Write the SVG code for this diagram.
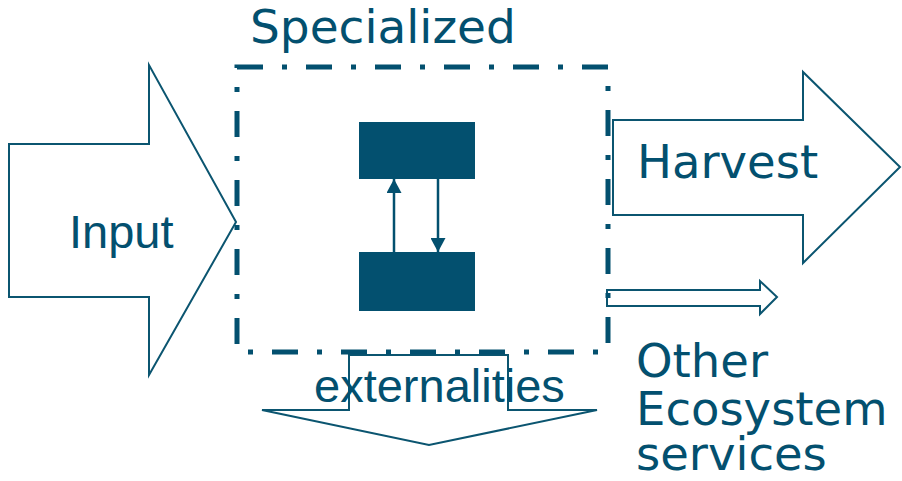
<svg xmlns="http://www.w3.org/2000/svg" width="902" height="481" viewBox="0 0 902 481">
<style>
.arr{fill:none;stroke:#0b5570;stroke-width:2;stroke-linejoin:miter}
.box{fill:none;stroke:#03506f;stroke-width:5;stroke-dasharray:26 19 5 19}
.blk{fill:#03506f}
.ln{stroke:#03506f;stroke-width:2.5;fill:none}
.tv{font-family:"DejaVu Sans",Verdana,sans-serif;font-size:46.5px;fill:#03506f}
.ta{font-family:"Liberation Sans",Arial,sans-serif;font-size:47px;fill:#03506f}
</style>
<defs>
<marker id="ah" markerWidth="14" markerHeight="15" refX="14" refY="7.5" orient="auto" markerUnits="userSpaceOnUse">
<path d="M0,0 L14,7.5 L0,15 z" fill="#03506f"/>
</marker>
</defs>
<g id="input">
<polygon class="arr" points="9,144 149,144 149,65 236,222 149,375 149,297 9,297"/>
<text class="ta" x="69" y="248">Input</text>
</g>
<g id="harvest">
<polygon class="arr" points="613,120 803,120 803,72 900,167 803,263 803,215 613,215"/>
<text class="tv" x="637" y="178">Harvest</text>
</g>
<g id="other">
<polygon class="arr" points="607,290 760,290 760,281 777,297 760,314 760,306 607,306"/>
<text class="tv" x="636" y="377">Other</text>
<text class="tv" x="636" y="425">Ecosystem</text>
<text class="tv" x="636" y="470">services</text>
</g>
<g id="externalities">
<polygon class="arr" points="349,355 508,355 508,410 597,410 429,445 262,410 349,410"/>
<text class="ta" x="314" y="402">externalities</text>
</g>
<g id="specialized">
<text class="tv" x="250" y="43" style="font-size:47px">Specialized</text>
<path class="box" d="M237,67 H608 V352 H237 Z"/>
</g>
<g id="top-block"><rect class="blk" x="359" y="122" width="116" height="57"/></g>
<g id="bottom-block"><rect class="blk" x="359" y="252" width="116" height="59"/></g>
<g id="connectors">
<line class="ln" x1="394" y1="252" x2="394" y2="179" marker-end="url(#ah)"/>
<line class="ln" x1="438" y1="179" x2="438" y2="252" marker-end="url(#ah)"/>
</g>
</svg>
